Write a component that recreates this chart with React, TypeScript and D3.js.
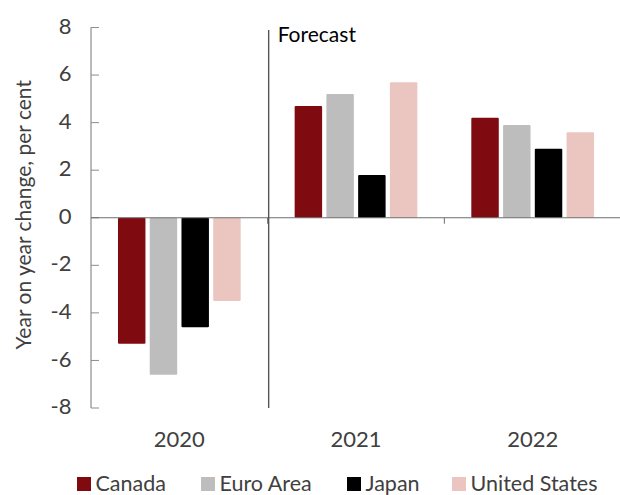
import React from "react";
import * as d3 from "d3";

const categories = ["2020", "2021", "2022"];
const seriesNames = ["Canada", "Euro Area", "Japan", "United States"];
const canada = [-5.3, 4.7, 4.2];
const euroArea = [-6.6, 5.2, 3.9];
const japan = [-4.6, 1.8, 2.9];
const unitedStates = [-3.5, 5.7, 3.6];
const yTicks = [-8, -6, -4, -2, 0, 2, 4, 6, 8];
const colors = ["#7F0A10", "#BDBDBD", "#000000", "#EBC6C1"];
const forecastStart = "2021";

const seriesValues = [canada, euroArea, japan, unitedStates];

export default function App() {
  const W = 620;
  const H = 495;
  const left = 91;
  const right = 620;
  const top = 27.5;
  const bottom = 408;
  const font = "Lato, 'Open Sans', sans-serif";

  const y = d3.scaleLinear().domain([-8, 8]).range([bottom, top]);
  const x0 = d3.scaleBand().domain(categories).range([left, right + 1]).paddingInner(0).paddingOuter(0);
  const x1 = d3.scaleBand().domain(seriesNames).range([0, x0.bandwidth()]).paddingInner(0.135).paddingOuter(0.85);

  const legendX = [77, 201, 347, 452];

  return (
    <svg width={W} height={H} style={{ position: "absolute", left: 0, top: 0 }}>
      {/* bars */}
      {categories.map((c, ci) =>
        seriesNames.map((s, si) => {
          const v = seriesValues[si][ci];
          const yy = y(Math.max(0, v));
          const h = Math.abs(y(v) - y(0));
          return (
            <rect
              key={c + s}
              x={(x0(c) as number) + (x1(s) as number)}
              y={yy}
              width={x1.bandwidth()}
              height={h}
              rx={1}
              fill={colors[si]}
            />
          );
        })
      )}
      {/* y axis */}
      <line x1={left} x2={left} y1={top} y2={bottom} stroke="#8c8c8c" strokeWidth={1.2} />
      {yTicks.map((t) => (
        <g key={t}>
          <line x1={left} x2={left + 8} y1={y(t)} y2={y(t)} stroke="#8c8c8c" strokeWidth={1} />
          <text x={71.5} y={y(t)} dy="0.28em" textAnchor="end" fontFamily={font} fontSize={22} fill="#404040">
            {t}
          </text>
        </g>
      ))}
      {/* zero line */}
      <line x1={left} x2={right} y1={y(0)} y2={y(0)} stroke="#6e6e6e" strokeWidth={1} />
      {categories.slice(1).map((c) => (
        <line key={c} x1={x0(c) as number} x2={x0(c) as number} y1={y(0)} y2={y(0) + 6} stroke="#6e6e6e" strokeWidth={1} />
      ))}
      {/* forecast divider */}
      <line
        x1={(x0(forecastStart) as number) + 1}
        x2={(x0(forecastStart) as number) + 1}
        y1={30}
        y2={bottom}
        stroke="#555555"
        strokeWidth={1.4}
      />
      <text x={(x0(forecastStart) as number) + 10} y={42.3} fontFamily={font} fontSize={21} fill="#000">
        Forecast
      </text>
      {/* category labels */}
      {categories.map((c) => (
        <text
          key={c}
          x={(x0(c) as number) + x0.bandwidth() / 2}
          y={446.5}
          textAnchor="middle"
          fontFamily={font}
          fontSize={22}
          fill="#404040"
        >
          {c}
        </text>
      ))}
      {/* y title */}
      <text
        transform={`translate(30.5, ${y(0) - 3}) rotate(-90)`}
        textAnchor="middle"
        fontFamily={font}
        fontSize={21}
        fill="#404040"
      >
        Year on year change, per cent
      </text>
      {/* legend */}
      {seriesNames.map((s, i) => (
        <g key={s}>
          <rect x={legendX[i]} y={477} width={14} height={14} fill={colors[i]} />
          <text x={legendX[i] + 18.5} y={490.5} fontFamily={font} fontSize={21.5} fill="#404040">
            {s}
          </text>
        </g>
      ))}
    </svg>
  );
}
